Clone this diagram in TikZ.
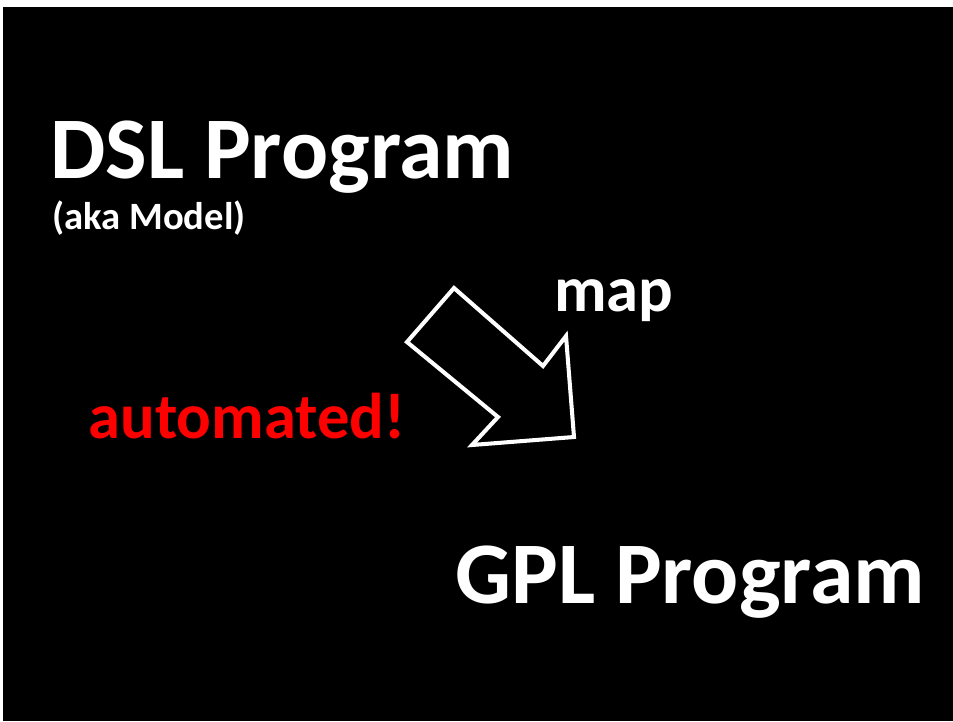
\documentclass[tikz,border=0pt]{standalone}
\usepackage{fontspec}
\setmainfont{Carlito}
\usepackage{tikz}
\usetikzlibrary{positioning,calc}

\begin{document}
\begin{tikzpicture}[
  x=0.02cm, y=-0.02cm,
  bigtxt/.style  = {text=white, font=\fontsize{50}{54}\selectfont\bfseries,
                    anchor=base west, inner sep=0pt},
  smalltxt/.style = {text=white, font=\fontsize{22}{24}\selectfont\bfseries,
                    anchor=base west, inner sep=0pt},
  midtxt/.style  = {text=white, font=\fontsize{36.8}{40}\selectfont\bfseries,
                    anchor=base west, inner sep=0pt},
  blockarr/.style = {draw=white, line width=2.3pt, line join=miter},
]

%%═══════════════════════════════════════════════════════════
%% Slide background
%%═══════════════════════════════════════════════════════════

\fill[white] (0,0) rectangle (953,721);
\fill[black] (3,7) rectangle (953,721);
\useasboundingbox (0,0) rectangle (953,721);

%%═══════════════════════════════════════════════════════════
%% Source and target programs
%%═══════════════════════════════════════════════════════════

\node[bigtxt] (dsl) at (50,178) {DSL Program};
\node[smalltxt] (aka) at (52,229) {(aka Model)};

\node[bigtxt] (gpl) at (455,603) {GPL Program};

%%═══════════════════════════════════════════════════════════
%% Mapping arrow
%%═══════════════════════════════════════════════════════════

\draw[blockarr]
  (454,288) -- (543,366) -- (566,336) -- (574,437)
  -- (472,445) -- (498,417) -- (407,342) -- cycle;

\node[midtxt] (map) at (554,311) {map};
\node[midtxt, text=red] (auto) at (88,438) {automated!};

\end{tikzpicture}
\end{document}
